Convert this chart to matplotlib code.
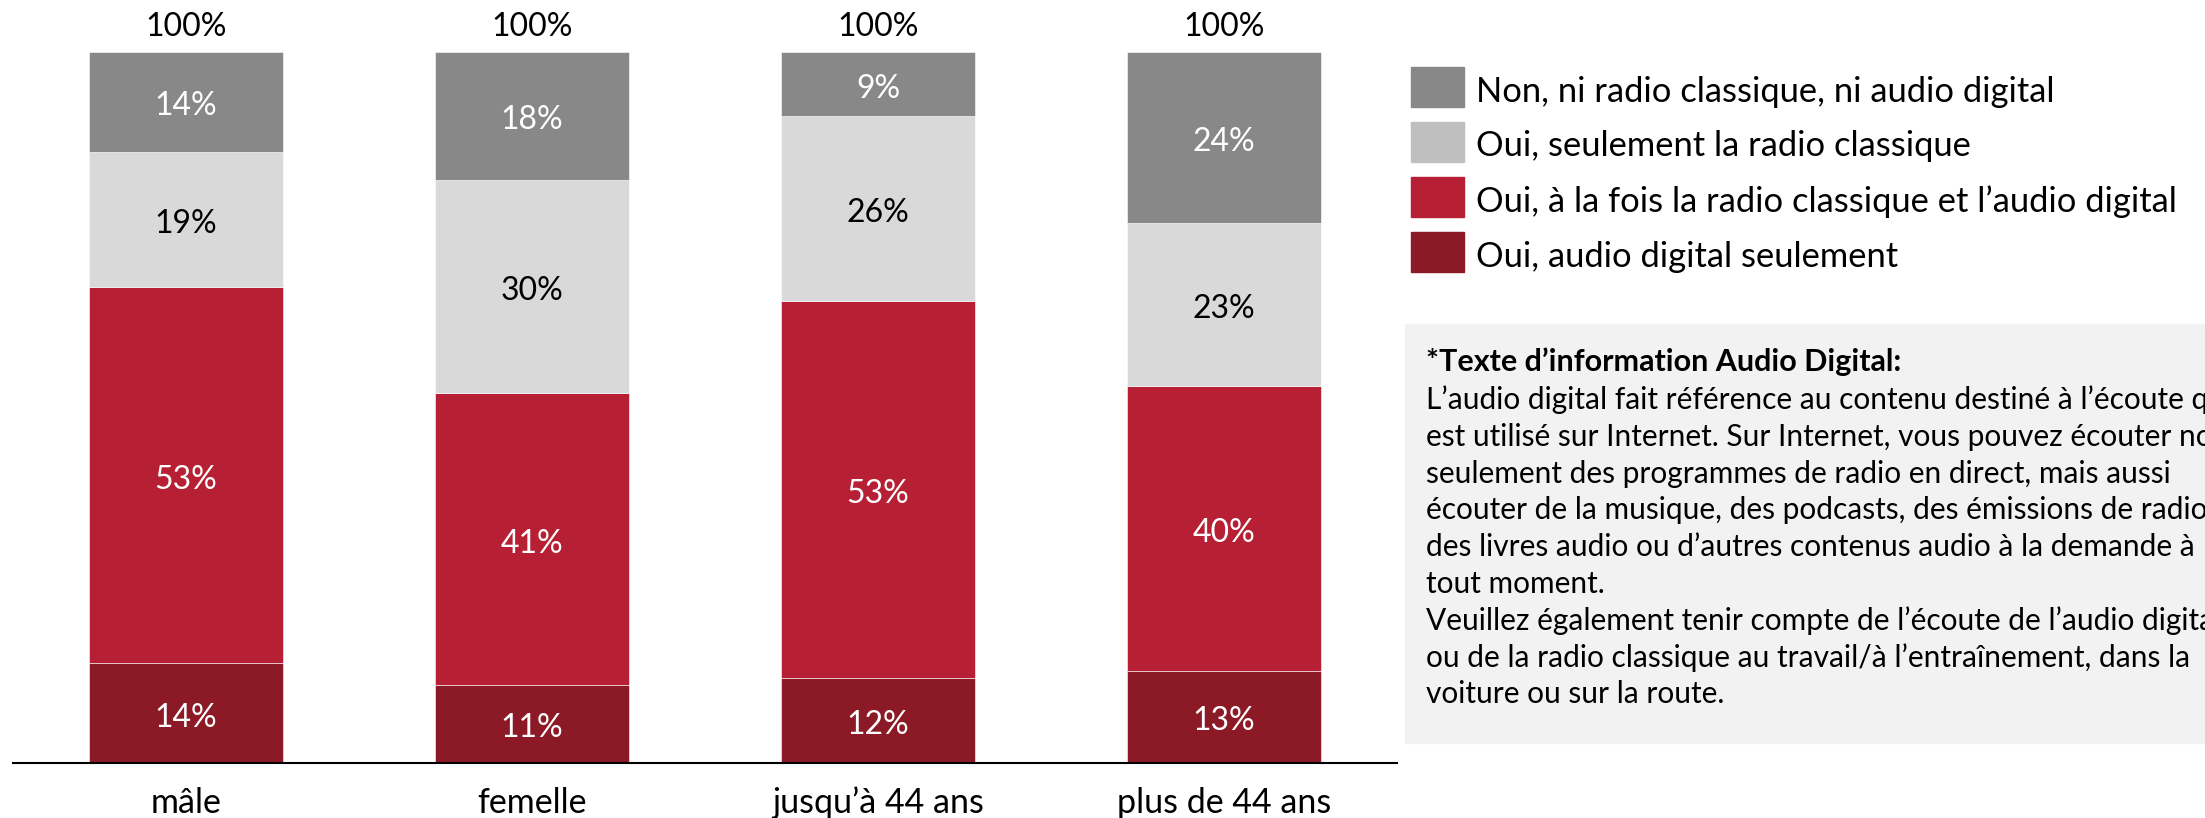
import matplotlib
matplotlib.use("Agg")
import matplotlib.pyplot as plt
from matplotlib.patches import Rectangle
import numpy as np

plt.rcParams['font.family'] = ['Lato', 'DejaVu Sans']

categories = ['mâle', 'femelle', 'jusqu’à 44 ans', 'plus de 44 ans']
# stacked from bottom to top
digital_only = [14, 11, 12, 13]
both = [53, 41, 53, 40]
classic_only = [19, 30, 26, 23]
none = [14, 18, 9, 24]
totals = ['100%', '100%', '100%', '100%']

series_labels = ['Non, ni radio classique, ni audio digital',
                 'Oui, seulement la radio classique',
                 'Oui, à la fois la radio classique et l’audio digital',
                 'Oui, audio digital seulement']

info_title = '*Texte d’information Audio Digital:'
info_lines = [
    'L’audio digital fait référence au contenu destiné à l’écoute qui',
    'est utilisé sur Internet. Sur Internet, vous pouvez écouter non',
    'seulement des programmes de radio en direct, mais aussi',
    'écouter de la musique, des podcasts, des émissions de radio,',
    'des livres audio ou d’autres contenus audio à la demande à',
    'tout moment.',
    'Veuillez également tenir compte de l’écoute de l’audio digital',
    'ou de la radio classique au travail/à l’entraînement, dans la',
    'voiture ou sur la route.',
]

W, H = 2205, 818
fig = plt.figure(figsize=(W / 100, H / 100), dpi=100)


def fx(x):
    return x / W


def fy(y):
    return 1 - y / H


ax = fig.add_axes([fx(13), fy(763), (1397 - 13) / W, 711 / H])

stack = [
    (digital_only, '#8C1A26', 'white'),
    (both, '#B72034', 'white'),
    (classic_only, '#D9D9D9', 'black'),
    (none, '#888888', 'white'),
]

x = np.arange(len(categories))
bottom = np.zeros(len(categories))
for vals, col, tcol in stack:
    vals = np.array(vals, dtype=float)
    ax.bar(x, vals, bottom=bottom, width=0.56, color=col,
           edgecolor='white', linewidth=0.4)
    for xi, b, v in zip(x, bottom, vals):
        ax.text(xi, b + v / 2 - 1.9, f'{int(v)}%', ha='center', va='baseline',
                color=tcol, fontsize=23)
    bottom += vals

for xi, b, t in zip(x, bottom, totals):
    ax.text(xi, b + 2.3, t, ha='center', va='baseline', fontsize=23,
            clip_on=False)

for xi, c in zip(x, categories):
    ax.text(xi, -5.6, c, ha='center', va='center', fontsize=24.5,
            clip_on=False)

ax.set_xlim(-0.5, 3.5)
ax.set_ylim(0, 100)
ax.set_xticks([])
ax.set_yticks([])
for s in ['left', 'top', 'right']:
    ax.spines[s].set_visible(False)
ax.spines['bottom'].set_linewidth(1.5)
ax.spines['bottom'].set_color('black')

# legend
legend_colors = ['#888888', '#BFBFBF', '#B72034', '#8C1A26']
legend_y = [87, 142, 197, 252]
for lab, col, yc in zip(series_labels, legend_colors, legend_y):
    fig.add_artist(Rectangle((fx(1411), fy(yc + 20)), 53 / W, 40 / H,
                             transform=fig.transFigure, color=col))
    fig.text(fx(1476), fy(yc + 14.5), lab, ha='left', va='baseline',
             fontsize=24.8)

# info box (text runs past the right edge, as in the original slide)
fig.add_artist(Rectangle((fx(1405), fy(743)), (W - 1405) / W, (743 - 324) / H,
                         transform=fig.transFigure, color='#F2F2F2', zorder=0))
fig.text(fx(1426), fy(362), info_title, ha='left', va='center',
         fontsize=22, fontweight='bold')
for i, line in enumerate(info_lines):
    fig.text(fx(1426), fy(400 + i * 36.8), line, ha='left', va='center',
             fontsize=21.5)

fig.savefig('out.png', dpi=100)
